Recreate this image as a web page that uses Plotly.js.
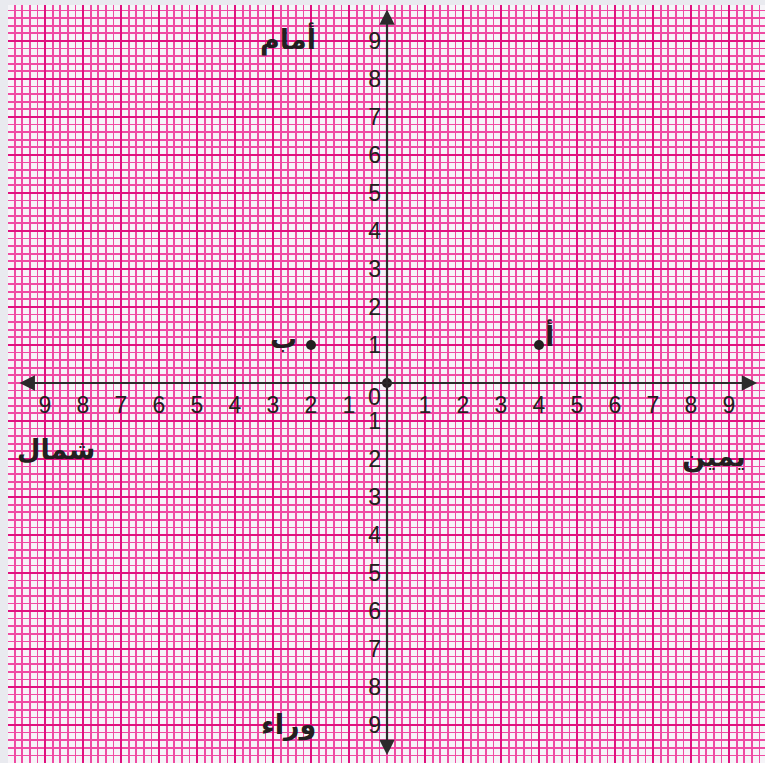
<!DOCTYPE html>
<html>
<head>
<meta charset="utf-8">
<script src="https://cdn.plot.ly/plotly-3.0.1.min.js"></script>
<style>
html,body{margin:0;padding:0;background:#e9eaef;}
#chart{width:765px;height:763px;}
</style>
</head>
<body>
<div id="chart"></div>
<script>
// ---- data ----
const xTickVals = [-9,-8,-7,-6,-5,-4,-3,-2,-1,1,2,3,4,5,6,7,8,9];
const xTickText = ['9','8','7','6','5','4','3','2','1','1','2','3','4','5','6','7','8','9'];
const yTickVals = [-9,-8,-7,-6,-5,-4,-3,-2,-1,1,2,3,4,5,6,7,8,9];
const yTickText = ['9','8','7','6','5','4','3','2','1','1','2','3','4','5','6','7','8','9'];
const pointNames = ['أ','ب'];
const pointX = [4,-2];
const pointY = [1,1];
const originX = [0];
const originY = [0];
const directionNames = ['أمام','وراء','يمين','شمال'];

// ---- layout geometry ----
const xr = [-9.974, 9.947];
const yr = [-10.0, 9.947];
const xPos = (0 - xr[0]) / (xr[1] - xr[0]);
const yPos = (0 - yr[0]) / (yr[1] - yr[0]);

const txtColor = '#231f20';
const tickFont = {family:'Liberation Sans, Arial, sans-serif', size:23, color:txtColor};
const arFont = {family:'DejaVu Sans, sans-serif', size:27, color:txtColor, weight:'bold'};

const traces = [
  {x: originX, y: originY, mode:'markers', type:'scatter',
   marker:{color:'#231f20', size:10}, hoverinfo:'skip', showlegend:false},
  {x: pointX, y: pointY, mode:'markers', type:'scatter',
   marker:{color:'#231f20', size:10}, hoverinfo:'skip', showlegend:false}
];

const gridMinor = {tickmode:'linear', tick0:0, dtick:0.2, showgrid:true,
  gridcolor:'#ef4ba3', gridwidth:1.8, ticks:''};

const labelShifts = [[10, 9], [-28, 6]];
const pointLabelAnns = pointNames.map((t, i) => ({
  x: pointX[i], y: pointY[i], xref:'x', yref:'y', text:t, showarrow:false,
  font: arFont, xshift: labelShifts[i][0], yshift: labelShifts[i][1]
}));

const layout = {
  width:765, height:763,
  margin:{l:8, r:0, t:5, b:0, pad:0},
  paper_bgcolor:'#e9eaef',
  plot_bgcolor:'#f6f4f8',
  showlegend:false,
  xaxis:{range:xr, anchor:'free', position:yPos, tickmode:'array',
    tickvals:xTickVals, ticktext:xTickText, tickfont:tickFont,
    showgrid:true, gridcolor:'#e0117f', gridwidth:2.6, zeroline:false, showline:false,
    ticks:'', ticklabelstandoff:6, automargin:false, minor:gridMinor, fixedrange:true},
  yaxis:{range:yr, anchor:'free', position:xPos, tickmode:'array',
    tickvals:yTickVals, ticktext:yTickText, tickfont:tickFont,
    showgrid:true, gridcolor:'#e0117f', gridwidth:2.6, zeroline:false, showline:false,
    ticks:'', ticklabelstandoff:6, automargin:false, minor:gridMinor, fixedrange:true},
  annotations:[
    {x:9.74, y:0, ax:-9.71, ay:0, xref:'x', yref:'y', axref:'x', ayref:'y', text:'',
     showarrow:true, arrowside:'end+start', arrowhead:2, arrowsize:1.4, arrowwidth:2.2, arrowcolor:'#2b2b2b'},
    {x:0, y:9.83, ax:0, ay:-9.83, xref:'x', yref:'y', axref:'x', ayref:'y', text:'',
     showarrow:true, arrowside:'end+start', arrowhead:2, arrowsize:1.4, arrowwidth:2.2, arrowcolor:'#2b2b2b'},
    {x:-0.32, y:-0.38, xref:'x', yref:'y', text:'0', showarrow:false, font:tickFont},
    {x:-2.6, y:9.05, xref:'x', yref:'y', text:directionNames[0], showarrow:false, font:arFont},
    {x:-2.6, y:-9.0, xref:'x', yref:'y', text:directionNames[1], showarrow:false, font:arFont},
    {x:8.6, y:-1.95, xref:'x', yref:'y', text:directionNames[2], showarrow:false, font:arFont},
    {x:-8.7, y:-1.75, xref:'x', yref:'y', text:directionNames[3], showarrow:false, font:arFont}
  ].concat(pointLabelAnns)
};

Plotly.newPlot('chart', traces, layout, {displayModeBar:false, staticPlot:true});
</script>
</body>
</html>
